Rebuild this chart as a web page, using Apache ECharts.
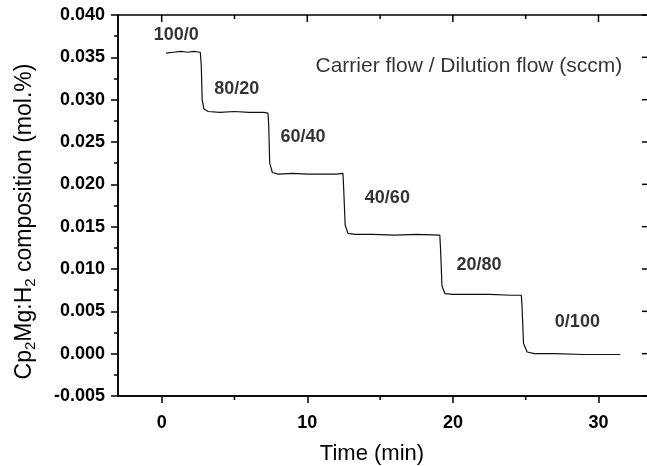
<!DOCTYPE html>
<html>
<head>
<meta charset="utf-8">
<script src="https://cdn.jsdelivr.net/npm/echarts@6/dist/echarts.min.js"></script>
<style>
  html, body { margin: 0; padding: 0; background: #fff; }
  #main { width: 647px; height: 466px; }
</style>
</head>
<body>
<div id="main"></div>
<script>
// measured trace, time (min) vs Cp2Mg:H2 composition (mol.%)
var timeMin = [0.3, 0.8, 1.3, 1.8, 2.2, 2.65, 2.72, 2.78, 2.9, 3.2, 4.0, 5.0, 6.0, 7.0,
  7.3, 7.35, 7.42, 7.6, 8.0, 9.0, 10.0, 11.0, 12.0, 12.45, 12.5, 12.6, 12.8, 13.3,
  14.5, 16.0, 17.5, 19.1, 19.15, 19.25, 19.45, 20.0, 21.0, 22.5, 24.0, 24.7, 24.75,
  24.85, 25.1, 25.6, 27.0, 29.0, 31.5];
var composition = [0.0355, 0.0356, 0.0357, 0.0356, 0.0357, 0.0356, 0.0340, 0.0300, 0.0289, 0.0286, 0.0285, 0.0286, 0.0285, 0.0285,
  0.0284, 0.0270, 0.0225, 0.0214, 0.0212, 0.0213, 0.0212, 0.0212, 0.0212, 0.0213, 0.0195, 0.0152, 0.0142, 0.0141,
  0.0141, 0.0140, 0.0141, 0.0140, 0.0125, 0.0080, 0.0071, 0.0070, 0.0070, 0.0070, 0.0069, 0.0069, 0.0055,
  0.0012, 0.0002, 0.0000, 0.0000, -0.0001, -0.0001];

// flow ratio labels (carrier / dilution)
var stepLabels = ['100/0', '80/20', '60/40', '40/60', '20/80', '0/100'];
var stepLabelTime = [1.0, 5.15, 9.7, 15.5, 21.8, 28.55];
var stepLabelValue = [0.03764, 0.03129, 0.02558, 0.01837, 0.01045, 0.00371];

var noteText = 'Carrier flow / Dilution flow (sccm)';
var noteTime = 21.1;
var noteValue = 0.0340;

var xMin = -3, xMax = 33.4;
var yMin = -0.005, yMax = 0.04;
var xMajorTicks = [0, 10, 20, 30];
var xMinorTicks = [5, 15, 25];
var yMajorTicks = [-0.005, 0, 0.005, 0.01, 0.015, 0.02, 0.025, 0.03, 0.035, 0.04];

var font = '"Liberation Sans", Arial, Helvetica, sans-serif';

var lineData = timeMin.map(function (t, i) { return [t, composition[i]]; });
var labelData = stepLabels.map(function (s, i) {
  return { name: s, value: [stepLabelTime[i], stepLabelValue[i]] };
});

var chart = echarts.init(document.getElementById('main'));

var option = {
  backgroundColor: '#fff',
  animation: false,
  grid: {
    left: 118, top: 15, right: -1, bottom: 70,
    outerBoundsMode: 'none', containLabel: false,
    show: true, borderColor: '#000', borderWidth: 1.5, backgroundColor: 'transparent'
  },
  xAxis: {
    type: 'value',
    min: xMin,
    max: xMax,
    splitLine: { show: false },
    axisLine: { show: true, onZero: false, lineStyle: { color: '#000', width: 1.5 } },
    axisTick: { show: true, length: 7, customValues: xMajorTicks, lineStyle: { color: '#000', width: 1.5 } },
    axisLabel: { show: true, customValues: xMajorTicks, margin: 18, fontFamily: font, fontSize: 18, fontWeight: 'bold', color: '#000' },
    name: 'Time (min)',
    nameLocation: 'middle',
    nameGap: 47,
    nameTextStyle: { fontFamily: font, fontSize: 22, color: '#000', padding: [0, 22, 0, 0] }
  },
  yAxis: {
    type: 'value',
    min: yMin,
    max: yMax,
    interval: 0.005,
    splitLine: { show: false },
    axisLine: { show: true, onZero: false, lineStyle: { color: '#000', width: 1.5 } },
    axisTick: { show: true, length: 7, lineStyle: { color: '#000', width: 1.5 } },
    minorTick: { show: true, splitNumber: 2, length: 4, lineStyle: { color: '#000', width: 1.5 } },
    axisLabel: {
      margin: 13,
      fontFamily: font, fontSize: 18, fontWeight: 'bold', color: '#000',
      formatter: function (v) { return v.toFixed(3); }
    },
    name: '{n|Cp}{s|2}{n|Mg:H}{s|2}{n| composition (mol.%)}',
    nameLocation: 'middle',
    nameRotate: 90,
    nameGap: 80,
    nameTextStyle: {
      fontFamily: font, color: '#000', padding: [0, 32, 0, 0],
      rich: {
        n: { fontFamily: font, fontSize: 23, color: '#000', lineHeight: 27 },
        s: { fontFamily: font, fontSize: 15, color: '#000', lineHeight: 27, verticalAlign: 'bottom', padding: [8, 0, 0, 0] }
      }
    }
  },
  series: [
    {
      type: 'line',
      data: lineData,
      showSymbol: false,
      symbol: 'none',
      lineStyle: { color: '#111', width: 1.2 }
    },
    {
      type: 'scatter',
      data: labelData,
      symbolSize: 0,
      silent: true,
      label: {
        show: true,
        position: 'inside',
        formatter: '{b}',
        fontFamily: font, fontSize: 18, fontWeight: 'bold', color: '#000'
      }
    },
    {
      type: 'scatter',
      data: [{ name: noteText, value: [noteTime, noteValue] }],
      symbolSize: 0,
      silent: true,
      label: {
        show: true,
        position: 'inside',
        formatter: '{b}',
        fontFamily: font, fontSize: 21, color: '#000'
      }
    }
  ]
};

chart.setOption(option);

// mirror ticks on the top and right frame, plus minor ticks on the bottom axis
var pxTop = chart.convertToPixel({ yAxisIndex: 0 }, yMax);
var pxBottom = chart.convertToPixel({ yAxisIndex: 0 }, yMin);
var pxRight = chart.convertToPixel({ xAxisIndex: 0 }, xMax);
var tickStyle = { stroke: '#000', lineWidth: 1.5 };
var marks = [];
function tick(x1, y1, x2, y2) {
  marks.push({ type: 'line', silent: true, z: 10, shape: { x1: x1, y1: y1, x2: x2, y2: y2 }, style: tickStyle });
}
xMajorTicks.forEach(function (v) {
  var x = chart.convertToPixel({ xAxisIndex: 0 }, v);
  tick(x, pxTop, x, pxTop + 7);
});
xMinorTicks.forEach(function (v) {
  var x = chart.convertToPixel({ xAxisIndex: 0 }, v);
  tick(x, pxTop, x, pxTop + 4);
  tick(x, pxBottom, x, pxBottom + 4);
});
yMajorTicks.forEach(function (v) {
  var y = chart.convertToPixel({ yAxisIndex: 0 }, v);
  tick(pxRight, y, pxRight - 6, y);
});
chart.setOption({ graphic: marks });
</script>
</body>
</html>
